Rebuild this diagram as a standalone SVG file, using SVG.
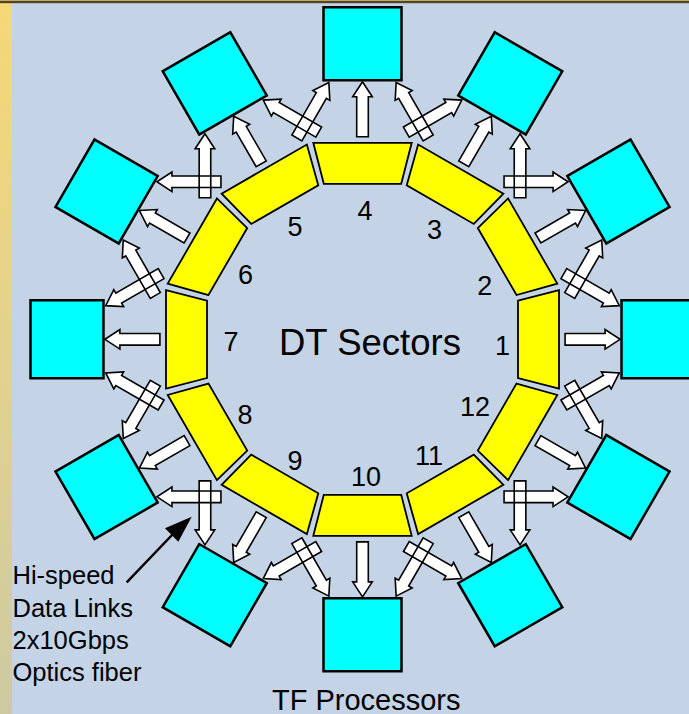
<svg xmlns="http://www.w3.org/2000/svg" xmlns:xlink="http://www.w3.org/1999/xlink" width="689" height="714" viewBox="0 0 689 714">
<defs>
<style>
.sec{fill:#ffff00;stroke:#000;stroke-width:1.8;stroke-linejoin:miter}
.box{fill:#00ffff;stroke:#000;stroke-width:2.5;stroke-linejoin:miter}
.af{fill:#ffffff;stroke:none}
.as{fill:none;stroke:#000;stroke-width:1.6;stroke-linejoin:miter}
text{font-family:"Liberation Sans",Arial,sans-serif;fill:#000}
.num{font-size:27px;text-anchor:middle}
.note{font-size:25.5px}
</style>
<linearGradient id="stripGrad" x1="0" y1="0" x2="0" y2="1">
<stop offset="0" stop-color="#f5d877"/>
<stop offset="0.5" stop-color="#e2d28e"/>
<stop offset="1" stop-color="#cdcaa2"/>
</linearGradient>
<path id="sector" d="M155.5,-38.7 L196.5,-49.2 L196.5,49.2 L155.5,38.7 Z"/>
<path id="tfbox" d="M259,-39 H332 V39 H259 Z"/>
<path id="a55" d="M0,-5.8 H40 V-9.8 L55,0 L40,9.8 V5.8 H0 Z"/>
<path id="a64" d="M0,-5.8 H49 V-9.8 L64,0 L49,9.8 V5.8 H0 Z"/>
<g id="links">
<use xlink:href="#a55" href="#a55" transform="translate(202.6,0)"/>
<g transform="rotate(-15)">
<use xlink:href="#a64" href="#a64" transform="translate(211.5,-11.3) rotate(45)"/>
<use xlink:href="#a64" href="#a64" transform="translate(211.5,11.3) rotate(-45)"/>
</g>
</g>
</defs>

<rect x="0" y="0" width="689" height="714" fill="#c4d4e6"/>
<rect x="0" y="0" width="12" height="714" fill="url(#stripGrad)"/>
<rect x="0" y="0" width="689" height="1" fill="#c8a850"/>
<rect x="0" y="1" width="689" height="2.2" fill="#4a4630"/>

<g id="connectors">
<g class="af">
<use href="#links" transform="translate(362.5,339.3) rotate(0)"/>
<use href="#links" transform="translate(362.5,339.3) rotate(-30)"/>
<use href="#links" transform="translate(362.5,339.3) rotate(-60)"/>
<use href="#links" transform="translate(362.5,339.3) rotate(-90)"/>
<use href="#links" transform="translate(362.5,339.3) rotate(-120)"/>
<use href="#links" transform="translate(362.5,339.3) rotate(-150)"/>
<use href="#links" transform="translate(362.5,339.3) rotate(-180)"/>
<use href="#links" transform="translate(362.5,339.3) rotate(-210)"/>
<use href="#links" transform="translate(362.5,339.3) rotate(-240)"/>
<use href="#links" transform="translate(362.5,339.3) rotate(-270)"/>
<use href="#links" transform="translate(362.5,339.3) rotate(-300)"/>
<use href="#links" transform="translate(362.5,339.3) rotate(-330)"/>
</g>
<g class="as">
<use href="#links" transform="translate(362.5,339.3) rotate(0)"/>
<use href="#links" transform="translate(362.5,339.3) rotate(-30)"/>
<use href="#links" transform="translate(362.5,339.3) rotate(-60)"/>
<use href="#links" transform="translate(362.5,339.3) rotate(-90)"/>
<use href="#links" transform="translate(362.5,339.3) rotate(-120)"/>
<use href="#links" transform="translate(362.5,339.3) rotate(-150)"/>
<use href="#links" transform="translate(362.5,339.3) rotate(-180)"/>
<use href="#links" transform="translate(362.5,339.3) rotate(-210)"/>
<use href="#links" transform="translate(362.5,339.3) rotate(-240)"/>
<use href="#links" transform="translate(362.5,339.3) rotate(-270)"/>
<use href="#links" transform="translate(362.5,339.3) rotate(-300)"/>
<use href="#links" transform="translate(362.5,339.3) rotate(-330)"/>
</g>
</g>

<g id="sector1"><use href="#sector" class="sec" transform="translate(362.5,339.3) rotate(0)"/><text class="num" x="502.5" y="354.5">1</text></g>
<g id="sector2"><use href="#sector" class="sec" transform="translate(362.5,339.3) rotate(-30)"/><text class="num" x="484.7" y="294.5">2</text></g>
<g id="sector3"><use href="#sector" class="sec" transform="translate(362.5,339.3) rotate(-60)"/><text class="num" x="434.5" y="238.5">3</text></g>
<g id="sector4"><use href="#sector" class="sec" transform="translate(362.5,339.3) rotate(-90)"/><text class="num" x="365" y="219.5">4</text></g>
<g id="sector5"><use href="#sector" class="sec" transform="translate(362.5,339.3) rotate(-120)"/><text class="num" x="295" y="236">5</text></g>
<g id="sector6"><use href="#sector" class="sec" transform="translate(362.5,339.3) rotate(-150)"/><text class="num" x="245.5" y="283.5">6</text></g>
<g id="sector7"><use href="#sector" class="sec" transform="translate(362.5,339.3) rotate(-180)"/><text class="num" x="231" y="350.5">7</text></g>
<g id="sector8"><use href="#sector" class="sec" transform="translate(362.5,339.3) rotate(-210)"/><text class="num" x="245" y="423.5">8</text></g>
<g id="sector9"><use href="#sector" class="sec" transform="translate(362.5,339.3) rotate(-240)"/><text class="num" x="295" y="470">9</text></g>
<g id="sector10"><use href="#sector" class="sec" transform="translate(362.5,339.3) rotate(-270)"/><text class="num" x="366" y="486">10</text></g>
<g id="sector11"><use href="#sector" class="sec" transform="translate(362.5,339.3) rotate(-300)"/><text class="num" x="429" y="465">11</text></g>
<g id="sector12"><use href="#sector" class="sec" transform="translate(362.5,339.3) rotate(-330)"/><text class="num" x="475" y="416">12</text></g>

<g id="tf1"><use href="#tfbox" class="box" transform="translate(362.5,339.3) rotate(0)"/></g>
<g id="tf2"><use href="#tfbox" class="box" transform="translate(362.5,339.3) rotate(-30)"/></g>
<g id="tf3"><use href="#tfbox" class="box" transform="translate(362.5,339.3) rotate(-60)"/></g>
<g id="tf4"><use href="#tfbox" class="box" transform="translate(362.5,339.3) rotate(-90)"/></g>
<g id="tf5"><use href="#tfbox" class="box" transform="translate(362.5,339.3) rotate(-120)"/></g>
<g id="tf6"><use href="#tfbox" class="box" transform="translate(362.5,339.3) rotate(-150)"/></g>
<g id="tf7"><use href="#tfbox" class="box" transform="translate(362.5,339.3) rotate(-180)"/></g>
<g id="tf8"><use href="#tfbox" class="box" transform="translate(362.5,339.3) rotate(-210)"/></g>
<g id="tf9"><use href="#tfbox" class="box" transform="translate(362.5,339.3) rotate(-240)"/></g>
<g id="tf10"><use href="#tfbox" class="box" transform="translate(362.5,339.3) rotate(-270)"/></g>
<g id="tf11"><use href="#tfbox" class="box" transform="translate(362.5,339.3) rotate(-300)"/></g>
<g id="tf12"><use href="#tfbox" class="box" transform="translate(362.5,339.3) rotate(-330)"/></g>

<g id="title-dt"><text x="279" y="355" font-size="36.5">DT Sectors</text></g>
<g id="title-tf"><text x="272" y="710" font-size="29">TF Processors</text></g>

<g id="annotation">
<line x1="126.7" y1="582.3" x2="173" y2="534" stroke="#000" stroke-width="2.5"/>
<polygon points="191.7,516.7 165,528.3 178.3,541.7" fill="#000"/>
<text class="note" x="12.5" y="584">Hi-speed</text>
<text class="note" x="12.5" y="617">Data Links</text>
<text class="note" x="12.5" y="649">2x10Gbps</text>
<text class="note" x="12.5" y="681">Optics fiber</text>
</g>
</svg>
